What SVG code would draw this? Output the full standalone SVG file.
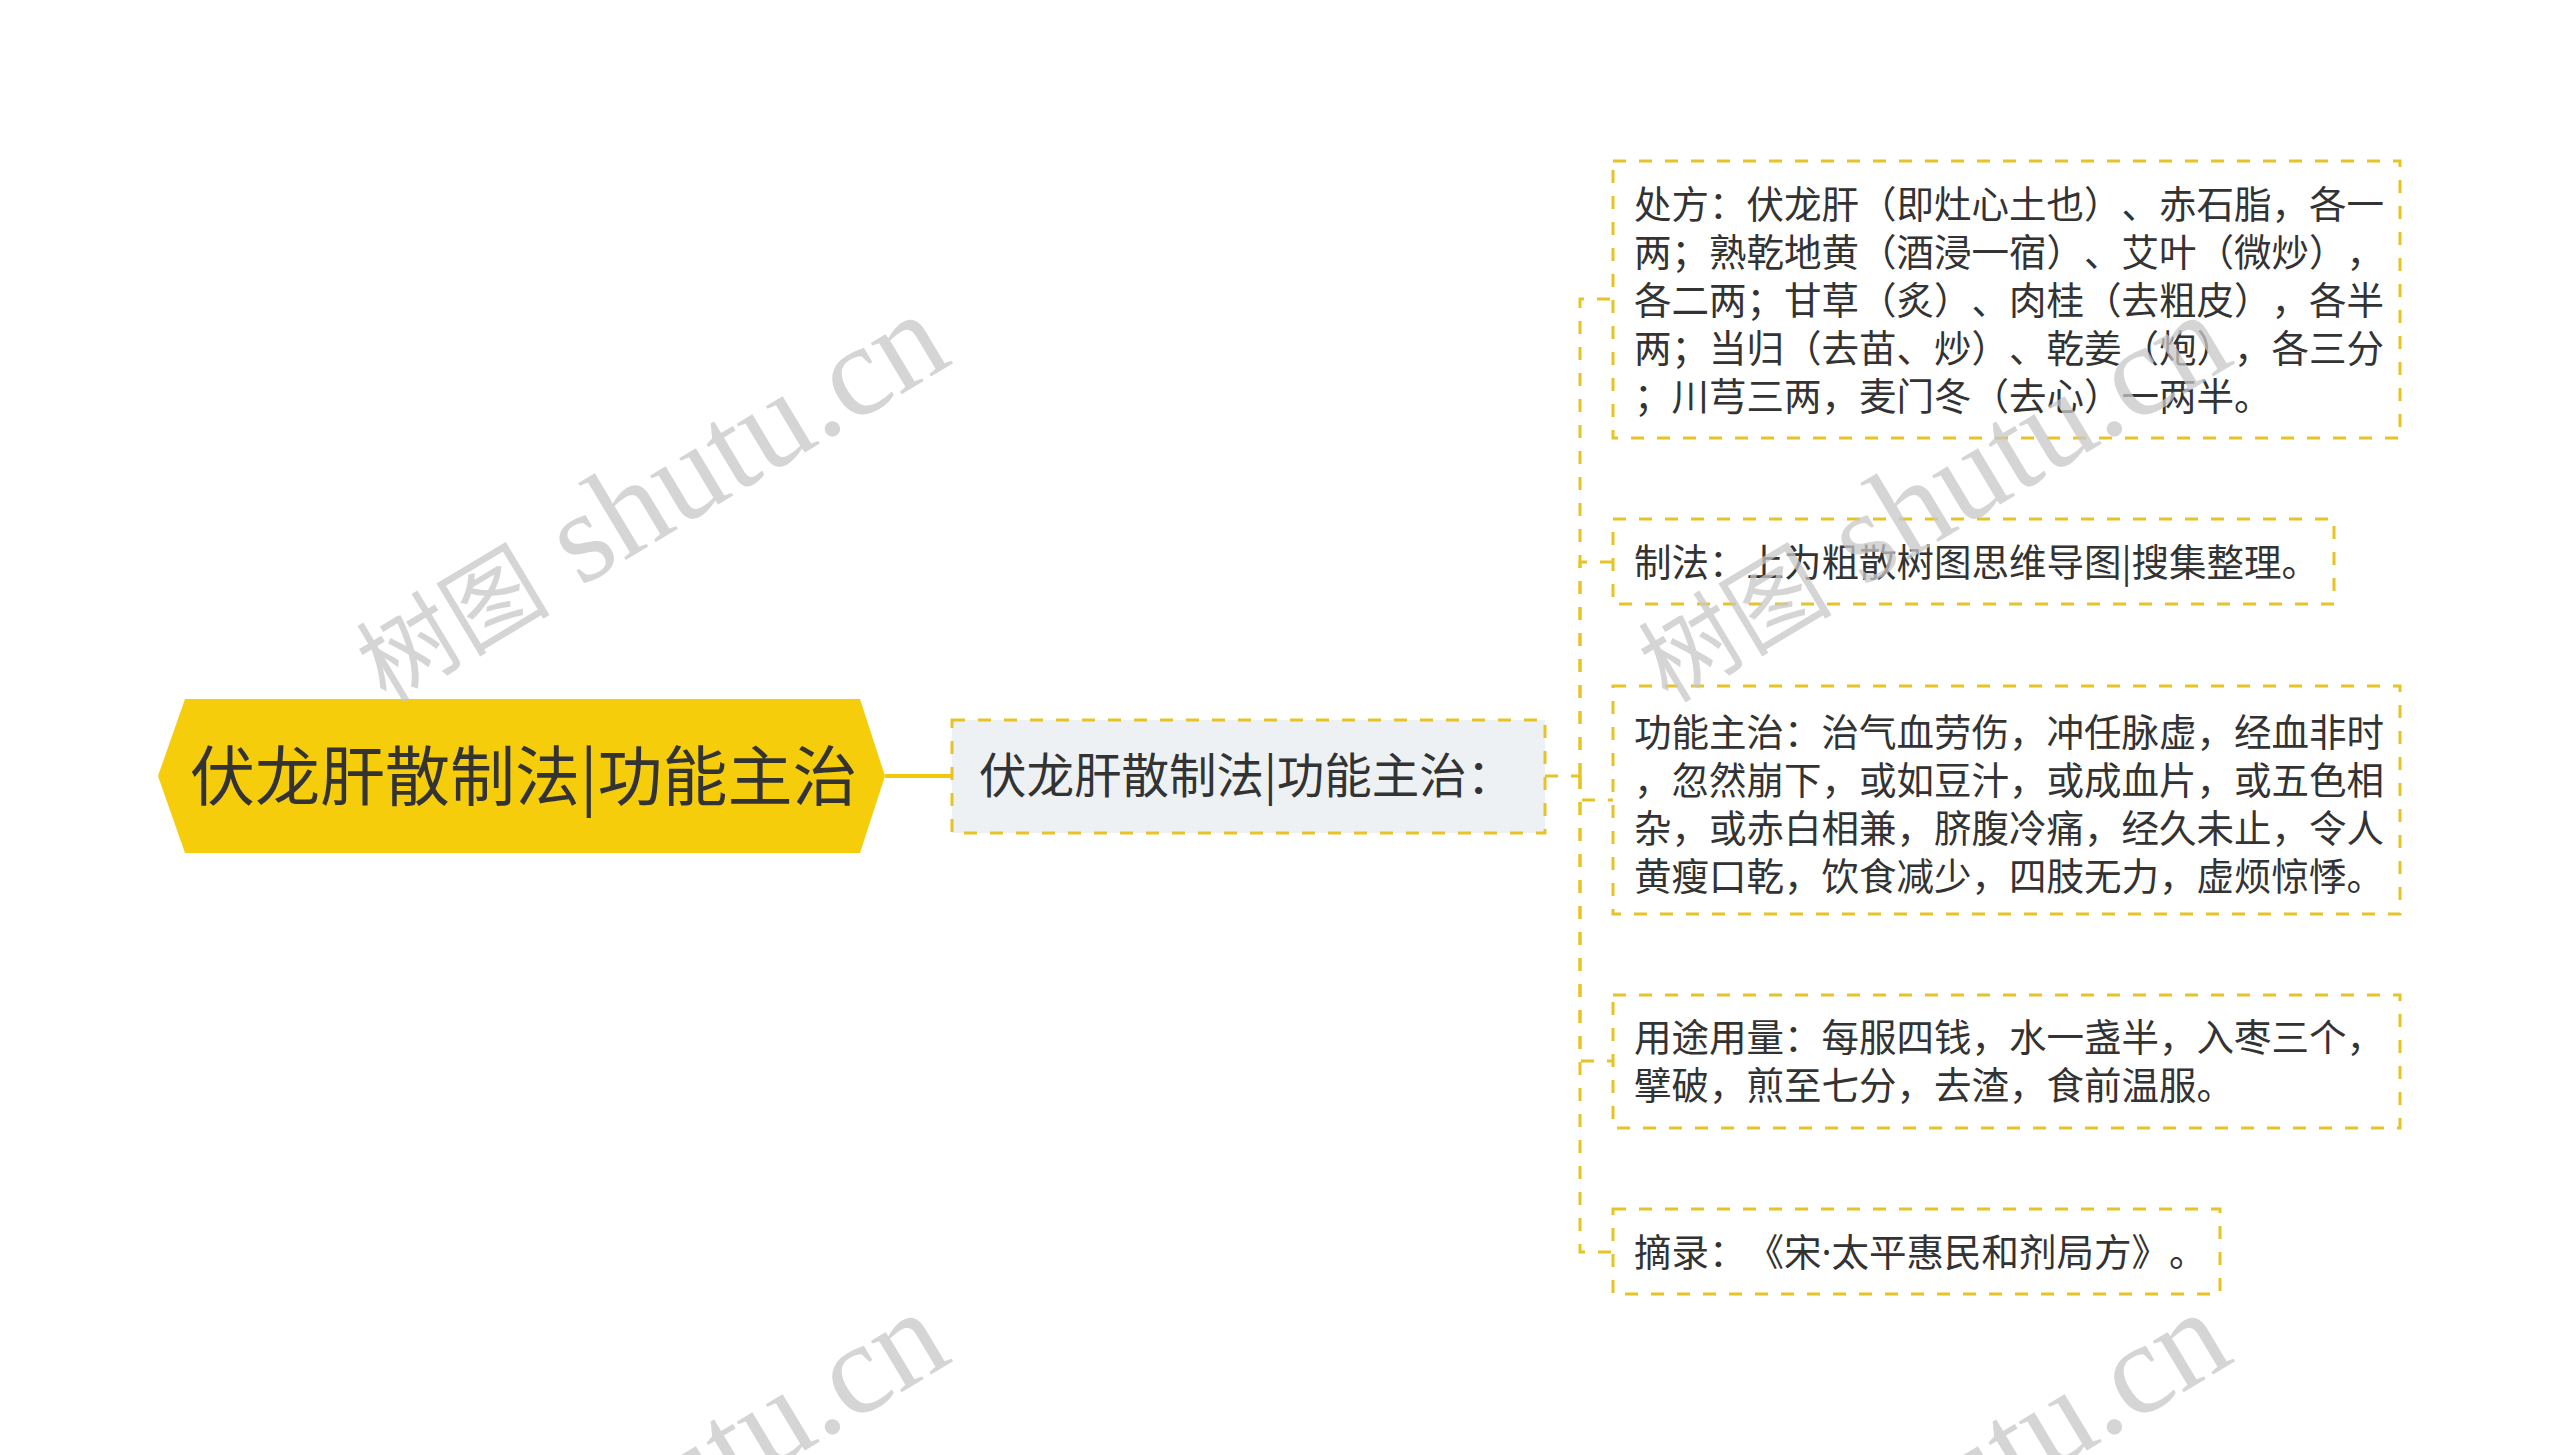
<svg xmlns="http://www.w3.org/2000/svg" width="2560" height="1455" viewBox="0 0 2560 1455">
<style>
.t{font-family:"Noto Sans CJK SC","Noto Sans",sans-serif;fill:#333333;text-spacing-trim:space-all}
.lat{font-family:"Noto Sans",sans-serif}
.leaf{fill:#ffffff;stroke:#e8c327;stroke-width:3;stroke-dasharray:13 13}
.dash{fill:none;stroke:#e8c327;stroke-width:3;stroke-dasharray:13 13}
.wm{font-family:"Liberation Serif","Noto Sans CJK SC",serif;font-size:130px;fill:#c8c8c8;opacity:0.75}
.wmc{font-family:"Noto Sans CJK SC",serif;font-size:97px}
</style>
<rect width="2560" height="1455" fill="#ffffff"/>
<g id="connectors">
<line x1="885" y1="776" x2="952" y2="776" stroke="#f2c90a" stroke-width="4"/>
<line x1="1545" y1="776" x2="1580" y2="776" class="dash"/>
<path class="dash" d="M1580,776 V299 H1613"/>
<path class="dash" d="M1580,776 V562 H1613"/>
<path class="dash" d="M1580,776 V800 H1613"/>
<path class="dash" d="M1580,776 V1061 H1613"/>
<path class="dash" d="M1580,776 V1252 H1613"/>
</g>
<g id="root">
<polygon points="158,776 185,699 860,699 885,776 860,853 185,853" fill="#f5cd0b"/>
<text class="t" x="190" y="800" font-size="65">伏龙肝散制法|功能主治</text>
</g>
<g id="child">
<rect x="952" y="720" width="593" height="113" fill="#eef1f4" stroke="#e8c327" stroke-width="3" stroke-dasharray="13 13"/>
<text class="t" x="979" y="793" font-size="47.5">伏龙肝散制法|功能主治：</text>
</g>
<g id="leaf1">
<rect class="leaf" x="1613" y="161" width="787" height="277"/>
<text class="t" font-size="37.5">
<tspan x="1634" y="218">处方：伏龙肝（即灶心土也）、赤石脂，各一</tspan>
<tspan x="1634" y="266">两；熟乾地黄（酒浸一宿）、艾叶（微炒），</tspan>
<tspan x="1634" y="314">各二两；甘草（炙）、肉桂（去粗皮），各半</tspan>
<tspan x="1634" y="362">两；当归（去苗、炒）、乾姜（炮），各三分</tspan>
<tspan x="1634" y="410">；川芎三两，麦门冬（去心）一两半。</tspan>
</text>
</g>
<g id="leaf2">
<rect class="leaf" x="1613" y="519" width="721" height="85"/>
<text class="t" font-size="37.5" x="1634" y="576">制法：上为粗散树图思维导图|搜集整理。</text>
</g>
<g id="leaf3">
<rect class="leaf" x="1613" y="686" width="787" height="228"/>
<text class="t" font-size="37.5">
<tspan x="1634" y="746">功能主治：治气血劳伤，冲任脉虚，经血非时</tspan>
<tspan x="1634" y="794">，忽然崩下，或如豆汁，或成血片，或五色相</tspan>
<tspan x="1634" y="842">杂，或赤白相兼，脐腹冷痛，经久未止，令人</tspan>
<tspan x="1634" y="890">黄瘦口乾，饮食减少，四肢无力，虚烦惊悸。</tspan>
</text>
</g>
<g id="leaf4">
<rect class="leaf" x="1613" y="995" width="787" height="133"/>
<text class="t" font-size="37.5">
<tspan x="1634" y="1051">用途用量：每服四钱，水一盏半，入枣三个，</tspan>
<tspan x="1634" y="1099">擘破，煎至七分，去渣，食前温服。</tspan>
</text>
</g>
<g id="leaf5">
<rect class="leaf" x="1613" y="1209" width="607" height="85"/>
<text class="t" font-size="37.5" x="1634" y="1266">摘录：《宋<tspan class="lat">·</tspan>太平惠民和剂局方》。</text>
</g>
<g id="watermarks">
<text class="wm" transform="translate(386,704) rotate(-31)"><tspan class="wmc">树图</tspan> shutu.cn</text>
<text class="wm" transform="translate(1668,704) rotate(-31)"><tspan class="wmc">树图</tspan> shutu.cn</text>
<text class="wm" transform="translate(386,1702) rotate(-31)"><tspan class="wmc">树图</tspan> shutu.cn</text>
<text class="wm" transform="translate(1668,1702) rotate(-31)"><tspan class="wmc">树图</tspan> shutu.cn</text>
</g>
</svg>
